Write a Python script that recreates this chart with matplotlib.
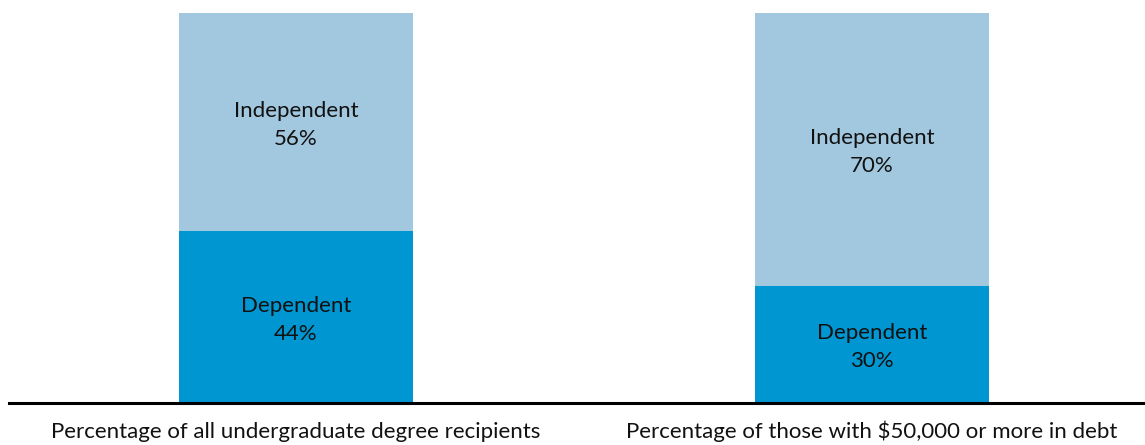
import matplotlib
matplotlib.use("Agg")
import matplotlib.pyplot as plt

plt.rcParams['font.family'] = ['Lato', 'DejaVu Sans']

categories = ["Percentage of all undergraduate degree recipients",
              "Percentage of those with $50,000 or more in debt"]
dependent = [44, 30]
independent = [56, 70]

c_dep = "#0096D2"
c_ind = "#A2C8DF"
txt = "#111111"

W, H = 1145, 445
fig = plt.figure(figsize=(W/100, H/100), dpi=100)
ax = fig.add_axes([9/W, (H-403)/H, 1-9/W, (403-13)/H])

x = [0, 1]
bw = 234/576
ax.bar(x, dependent, width=bw, color=c_dep, linewidth=0)
ax.bar(x, independent, width=bw, bottom=dependent, color=c_ind, linewidth=0)

PT = 0.72  # points per pixel at dpi 100


def two_lines(xc, yc, l1, l2):
    ax.annotate(l1, xy=(xc, yc), xytext=(0, 5.5*PT), textcoords="offset points",
                ha="center", va="baseline", fontsize=16, color=txt)
    ax.annotate(l2, xy=(xc, yc), xytext=(0, -22.5*PT), textcoords="offset points",
                ha="center", va="baseline", fontsize=16, color=txt)


for xi, d, i in zip(x, dependent, independent):
    two_lines(xi, d/2, "Dependent", f"{d}%")
    two_lines(xi, d + i/2, "Independent", f"{i}%")

for xi, cat in zip(x, categories):
    ax.annotate(cat, xy=(xi, 0), xycoords=("data", "axes fraction"),
                xytext=(0, -35*PT), textcoords="offset points",
                ha="center", va="baseline", fontsize=16, color=txt,
                annotation_clip=False)

ax.set_xlim(-(296-9)/576, (1145-296)/576)
ax.set_ylim(0, 100)
ax.set_xticks([])
ax.set_yticks([])
for s in ["top", "right", "left"]:
    ax.spines[s].set_visible(False)
ax.spines["bottom"].set_linewidth(2.2)
ax.spines["bottom"].set_color("#000000")

fig.savefig("out.png", dpi=100)
